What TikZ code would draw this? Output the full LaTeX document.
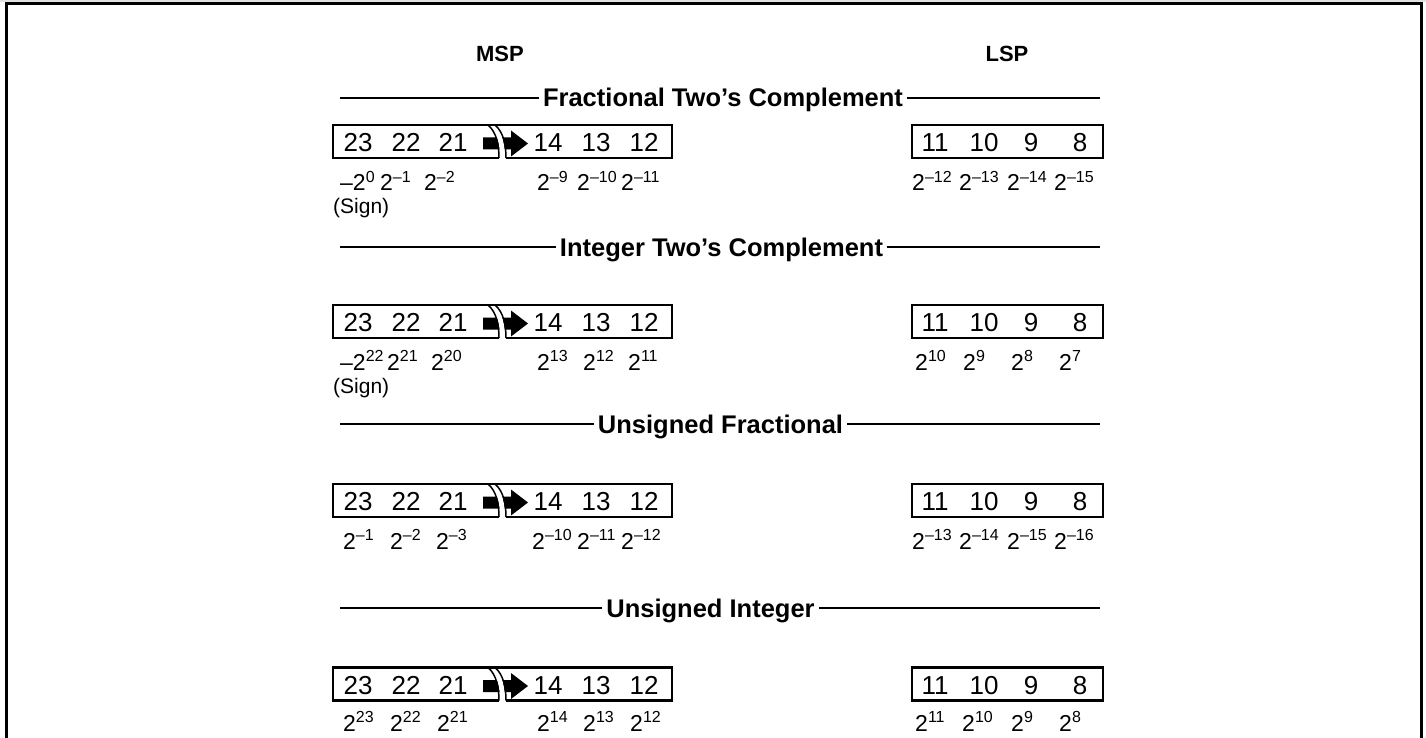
\documentclass[tikz,border=0pt]{standalone}
\usepackage{fontspec}
\setmainfont{Liberation Sans}
\tikzset{
  frameline/.style={line width=3pt},
  boxline/.style={line width=2.4pt, line join=miter},
  hline/.style={line width=1.4pt},
  digit/.style={font=\fontsize{26}{26}\selectfont, anchor=base, inner sep=0pt},
  lbl/.style={font=\fontsize{23}{23}\selectfont, anchor=base west, inner sep=0pt},
  signlbl/.style={font=\fontsize{21}{21}\selectfont, anchor=base west, inner sep=0pt},
  hdr/.style={font=\bfseries\fontsize{25.5}{25.5}\selectfont, anchor=base, inner sep=4pt},
  colhdr/.style={font=\bfseries\fontsize{22}{22}\selectfont, anchor=base, inner sep=0pt},
}
\newcommand\pw[2]{#1\raisebox{8.5pt}{\fontsize{16}{16}\selectfont#2}}
% #1 = box centre y, #2 = row id
\newcommand\regrow[2]{%
  \draw[boxline] (499,#1+16.5) -- (333,#1+16.5) -- (333,#1-16.5) -- (672,#1-16.5) -- (672,#1+16.5) -- (506,#1+16.5);
  \draw[boxline] (912,#1-16.5) rectangle (1103,#1+16.5);
  \fill (483,#1-4) -- (511,#1-4) -- (511,#1-11) -- (528,#1+2) -- (511,#1+15) -- (511,#1+8) -- (483,#1+8) -- cycle;
  \draw[white, line width=5pt] (491.5,#1-16.5) .. controls (500.5,#1-9) and (502.5,#1+5) .. (502.5,#1+16.5);
  \draw[line width=1.5pt] (488,#1-16.5) .. controls (497,#1-9) and (499,#1+5) .. (499,#1+16.5);
  \draw[line width=1.5pt] (495,#1-16.5) .. controls (504,#1-9) and (506,#1+5) .. (506,#1+16.5);
  \draw[boxline] (480,#1-16.5) -- (520,#1-16.5);
  \node[digit] (#2d23) at (358,#1+10) {23};
  \node[digit] (#2d22) at (406,#1+10) {22};
  \node[digit] (#2d21) at (453,#1+10) {21};
  \node[digit] (#2d14) at (548,#1+10) {14};
  \node[digit] (#2d13) at (596,#1+10) {13};
  \node[digit] (#2d12) at (644,#1+10) {12};
  \node[digit] (#2d11) at (935,#1+10) {11};
  \node[digit] (#2d10) at (984,#1+10) {10};
  \node[digit] (#2d9) at (1031,#1+10) {9};
  \node[digit] (#2d8) at (1080,#1+10) {8};
}
% #1 baseline y, #2 id, #3 text, #4 centre x
\newcommand\sechdr[4]{%
  \node[hdr] (#2h) at (#4,#1) {#3};
  \coordinate (#2l) at (340,#1-9);
  \coordinate (#2r) at (1100,#1-9);
  \draw[hline] (#2l) -- (#2h.west |- #2l);
  \draw[hline] (#2h.east |- #2r) -- (#2r);
}
\begin{document}
\begin{tikzpicture}[x=1pt,y=-1pt]
\useasboundingbox (0,0) rectangle (1426,738);
\fill[black!12] (0,0) rectangle (1426,2);
\draw[frameline] (6,738) -- (6,3.5) -- (1421,3.5) -- (1421,738);

\node[colhdr] (msp) at (500,62) {MSP};
\node[colhdr] (lsp) at (1007,62) {LSP};

% Row 1
\sechdr{107}{a}{Fractional Two’s Complement}{723}
\regrow{141.5}{a}
\node[lbl] (al1) at (340,191) {–\pw{2}{0}};
\node[lbl] (al2) at (380,191) {\pw{2}{–1}};
\node[lbl] (al3) at (424,191) {\pw{2}{–2}};
\node[lbl] (al4) at (537,191) {\pw{2}{–9}};
\node[lbl] (al5) at (577,191) {\pw{2}{–10}};
\node[lbl] (al6) at (621,191) {\pw{2}{–11}};
\node[lbl] (al7) at (912,191) {\pw{2}{–12}};
\node[lbl] (al8) at (959,191) {\pw{2}{–13}};
\node[lbl] (al9) at (1007,191) {\pw{2}{–14}};
\node[lbl] (al10) at (1054,191) {\pw{2}{–15}};
\node[signlbl] (as) at (333,214) {(Sign)};

% Row 2
\sechdr{256}{b}{Integer Two’s Complement}{721.5}
\regrow{321.5}{b}
\node[lbl] (bl1) at (340,370) {–\pw{2}{22}};
\node[lbl] (bl2) at (387,370) {\pw{2}{21}};
\node[lbl] (bl3) at (431,370) {\pw{2}{20}};
\node[lbl] (bl4) at (537,370) {\pw{2}{13}};
\node[lbl] (bl5) at (583,370) {\pw{2}{12}};
\node[lbl] (bl6) at (628,370) {\pw{2}{11}};
\node[lbl] (bl7) at (915,370) {\pw{2}{10}};
\node[lbl] (bl8) at (963,370) {\pw{2}{9}};
\node[lbl] (bl9) at (1011,370) {\pw{2}{8}};
\node[lbl] (bl10) at (1059,370) {\pw{2}{7}};
\node[signlbl] (bs) at (333,393) {(Sign)};

% Row 3
\sechdr{433}{c}{Unsigned Fractional}{720.5}
\regrow{500.5}{c}
\node[lbl] (cl1) at (343,549) {\pw{2}{–1}};
\node[lbl] (cl2) at (390,549) {\pw{2}{–2}};
\node[lbl] (cl3) at (436,549) {\pw{2}{–3}};
\node[lbl] (cl4) at (532,549) {\pw{2}{–10}};
\node[lbl] (cl5) at (577,549) {\pw{2}{–11}};
\node[lbl] (cl6) at (621,549) {\pw{2}{–12}};
\node[lbl] (cl7) at (912,549) {\pw{2}{–13}};
\node[lbl] (cl8) at (959,549) {\pw{2}{–14}};
\node[lbl] (cl9) at (1007,549) {\pw{2}{–15}};
\node[lbl] (cl10) at (1054,549) {\pw{2}{–16}};

% Row 4
\sechdr{617}{d}{Unsigned Integer}{710.5}
\regrow{684}{d}
\node[lbl] (dl1) at (343,731) {\pw{2}{23}};
\node[lbl] (dl2) at (390,731) {\pw{2}{22}};
\node[lbl] (dl3) at (437,731) {\pw{2}{21}};
\node[lbl] (dl4) at (537,731) {\pw{2}{14}};
\node[lbl] (dl5) at (583,731) {\pw{2}{13}};
\node[lbl] (dl6) at (630,731) {\pw{2}{12}};
\node[lbl] (dl7) at (915,731) {\pw{2}{11}};
\node[lbl] (dl8) at (962,731) {\pw{2}{10}};
\node[lbl] (dl9) at (1011,731) {\pw{2}{9}};
\node[lbl] (dl10) at (1059,731) {\pw{2}{8}};
\end{tikzpicture}
\end{document}
